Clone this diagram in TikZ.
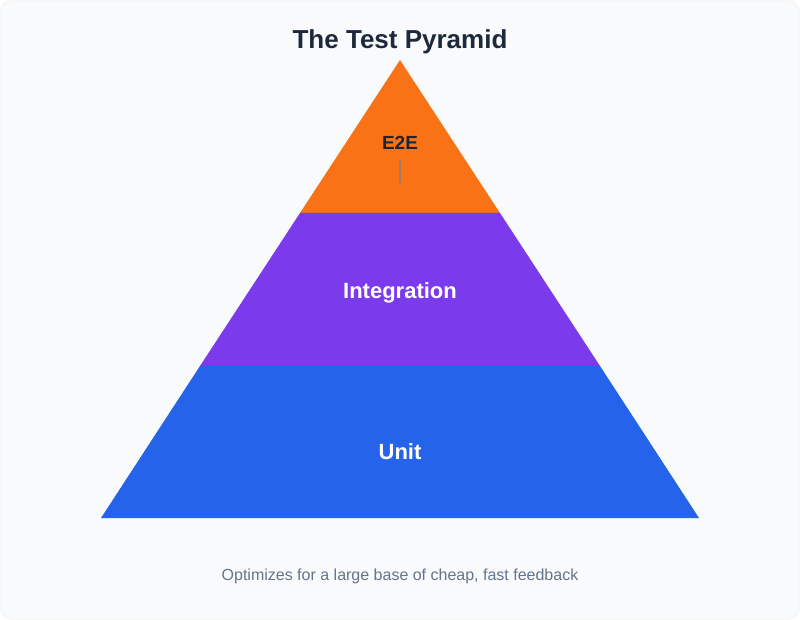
\documentclass[tikz,border=0pt]{standalone}
\usepackage{fontspec}
\setmainfont{Liberation Sans}
\begin{document}
\begin{tikzpicture}[x=1pt,y=-1pt,
  lbl/.style={font=\bfseries\fontsize{22}{26}\selectfont,text=white}]
\definecolor{bg}{HTML}{F8FAFC}
\definecolor{ora}{HTML}{F97316}
\definecolor{pur}{HTML}{7C3AED}
\definecolor{blu}{HTML}{2563EB}
\definecolor{ttl}{HTML}{1E293B}
\definecolor{cap}{HTML}{64748B}
\fill[bg,draw=black!8,rounded corners=12pt] (0.5,0.5) rectangle (799.5,619.5);
\useasboundingbox (0,0) rectangle (800,620);
\fill[ora] (400,60) -- (500,213) -- (300,213) -- cycle;
\fill[pur] (300,213) -- (500,213) -- (600,366) -- (200,366) -- cycle;
\fill[blu] (200,366) -- (600,366) -- (699,518) -- (101,518) -- cycle;
\node[font=\bfseries\fontsize{26}{30}\selectfont,text=ttl] (title) at (400,42) {The Test Pyramid};
\node[font=\bfseries\fontsize{19}{22}\selectfont,text=ttl!90!black] (e2e) at (400,143) {E2E};
\coordinate (m1) at (400,160); \coordinate (m2) at (400,184);
\draw[line width=1.5pt,draw=gray!70!ora] (m1) -- (m2);
\node[lbl] (int) at (400,293) {Integration};
\node[lbl] (unit) at (400,452) {Unit};
\node[font=\fontsize{16}{19}\selectfont,text=cap] (caption) at (400,576) {Optimizes for a large base of cheap, fast feedback};
\end{tikzpicture}
\end{document}
